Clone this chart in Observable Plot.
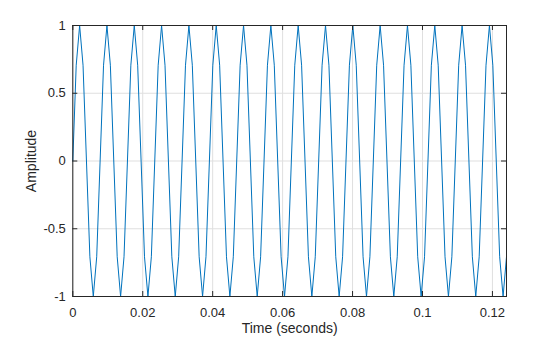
<!DOCTYPE html>
<html>
<head>
<meta charset="utf-8">
<script src="https://cdn.jsdelivr.net/npm/d3@7"></script>
<script src="https://cdn.jsdelivr.net/npm/@observablehq/plot@0.6"></script>
<style>
  html, body { margin: 0; padding: 0; background: #fff; }
</style>
</head>
<body>
<div id="chart"></div>
<script>
// Sampling rate (Hz): one sample every 1/1024 s starting at t = 0
const sampleRate = 1024;

// Amplitude values (one per sample, 8 samples per cycle)
const amplitude = [
  0, 0.707, 1, 0.707, 0, -0.707, -1, -0.707,
  0, 0.707, 1, 0.707, 0, -0.707, -1, -0.707,
  0, 0.707, 1, 0.707, 0, -0.707, -1, -0.707,
  0, 0.707, 1, 0.707, 0, -0.707, -1, -0.707,
  0, 0.707, 1, 0.707, 0, -0.707, -1, -0.707,
  0, 0.707, 1, 0.707, 0, -0.707, -1, -0.707,
  0, 0.707, 1, 0.707, 0, -0.707, -1, -0.707,
  0, 0.707, 1, 0.707, 0, -0.707, -1, -0.707,
  0, 0.707, 1, 0.707, 0, -0.707, -1, -0.707,
  0, 0.707, 1, 0.707, 0, -0.707, -1, -0.707,
  0, 0.707, 1, 0.707, 0, -0.707, -1, -0.707,
  0, 0.707, 1, 0.707, 0, -0.707, -1, -0.707,
  0, 0.707, 1, 0.707, 0, -0.707, -1, -0.707,
  0, 0.707, 1, 0.707, 0, -0.707, -1, -0.707,
  0, 0.707, 1, 0.707, 0, -0.707, -1, -0.707,
  0, 0.707, 1, 0.707, 0, -0.707, -1, -0.707
];

const xTicks = [0, 0.02, 0.04, 0.06, 0.08, 0.1, 0.12];
const xTickLabels = ["0", "0.02", "0.04", "0.06", "0.08", "0.1", "0.12"];
const yTicks = [-1, -0.5, 0, 0.5, 1];
const yTickLabels = ["-1", "-0.5", "0", "0.5", "1"];
const yDomain = [-1, 1];
const xLabel = "Time (seconds)";
const yLabel = "Amplitude";

const data = amplitude.map((a, i) => ({ t: i / sampleRate, a }));
const xDomain = [0, (amplitude.length - 1) / sampleRate];

const W = 560, H = 337;
const mL = 72.3, mR = 54, mT = 25, mB = 41;
const innerW = W - mL - mR, innerH = H - mT - mB;
const ink = "#262626";
const tickLen = 5;

const chart = Plot.plot({
  width: W,
  height: H,
  marginLeft: mL,
  marginRight: mR,
  marginTop: mT,
  marginBottom: mB,
  style: { fontFamily: "'Liberation Sans', Arial, Helvetica, sans-serif", fontSize: "13px", color: ink, background: "#fff" },
  x: { domain: xDomain },
  y: { domain: yDomain },
  marks: [
    Plot.gridX(xTicks, { stroke: "#dfdfdf", strokeOpacity: 1 }),
    Plot.gridY(yTicks, { stroke: "#dfdfdf", strokeOpacity: 1 }),
    Plot.line(data, { x: "t", y: "a", stroke: "#0072BD", strokeWidth: 1 }),
    Plot.frame({ stroke: ink, strokeWidth: 1 }),
    // inward ticks (bottom, top, left, right)
    Plot.tickX(xTicks, { x: d => d, stroke: ink, insetTop: innerH - tickLen }),
    Plot.tickX(xTicks, { x: d => d, stroke: ink, insetBottom: innerH - tickLen }),
    Plot.tickY(yTicks, { y: d => d, stroke: ink, insetRight: innerW - tickLen }),
    Plot.tickY(yTicks, { y: d => d, stroke: ink, insetLeft: innerW - tickLen }),
    Plot.axisX({ ticks: xTicks, tickFormat: (d) => xTickLabels[xTicks.indexOf(d)], tickSize: 0, tickPadding: 11, label: null, fontSize: 13 }),
    Plot.axisY({ ticks: yTicks, tickFormat: (d) => yTickLabels[yTicks.indexOf(d)], tickSize: 0, tickPadding: 7, label: null, fontSize: 13 }),
    Plot.text([xLabel], { text: d => d, frameAnchor: "bottom", dy: 36, textAnchor: "middle", lineAnchor: "bottom", fontSize: 14, fill: ink }),
    Plot.text([yLabel], { text: d => d, frameAnchor: "left", dx: -37, rotate: -90, textAnchor: "middle", lineAnchor: "bottom", fontSize: 14, fill: ink })
  ]
});

document.getElementById("chart").appendChild(chart);
</script>
</body>
</html>
